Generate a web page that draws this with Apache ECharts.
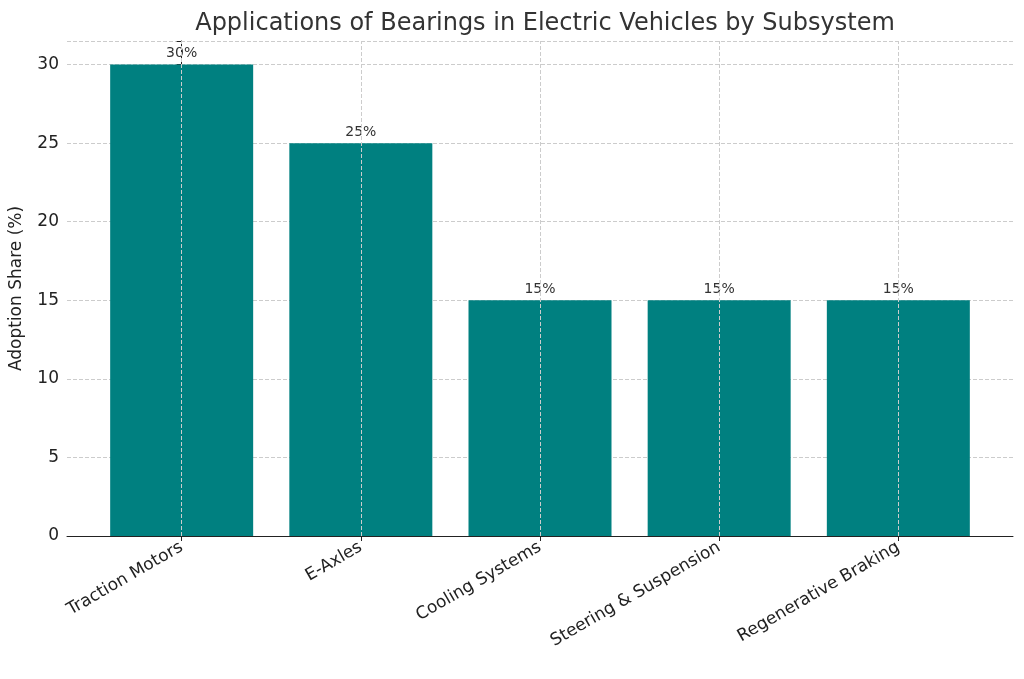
<!DOCTYPE html>
<html><head><meta charset="utf-8">
<script src="https://cdn.jsdelivr.net/npm/echarts@6/dist/echarts.min.js"></script>
<style>html,body{margin:0;padding:0;background:#fff}#main{width:1024px;height:679px}</style>
</head><body><div id="main"></div>
<script>
const categories = ["Traction Motors", "E-Axles", "Cooling Systems", "Steering & Suspension", "Regenerative Braking"];
const shares = [30, 25, 15, 15, 15];
const yTicks = [0, 5, 10, 15, 20, 25, 30];
const positions = categories.map((c, i) => i);

const chart = echarts.init(document.getElementById("main"));
const font = "DejaVu Sans";
chart.setOption({
    animation: false,
    textStyle: { fontFamily: font },
    title: {
        text: "Applications of Bearings in Electric Vehicles by Subsystem",
        left: 540, top: 7, textAlign: "center",
        textStyle: { fontFamily: font, fontSize: 24, fontWeight: "normal", color: "#333" }
    },
    grid: { left: 67, right: 11, top: 41, bottom: 143 },
    xAxis: {
        type: "value", min: -0.64, max: 4.64,
        axisLine: { lineStyle: { color: "#222" } },
        axisTick: { show: true, customValues: positions, lineStyle: { color: "#222" } },
        axisLabel: { rotate: 30, fontSize: 17, color: "#222", margin: 10,
            customValues: positions, formatter: v => categories[Math.round(v)] },
        splitLine: { show: false }
    },
    yAxis: {
        type: "value", min: 0, max: 31.5, interval: 5,
        name: "Adoption Share (%)", nameLocation: "middle", nameGap: 42,
        nameTextStyle: { fontSize: 17, color: "#222" },
        axisLine: { show: true, lineStyle: { color: "#222" } },
        axisTick: { show: true, lineStyle: { color: "#222" } },
        axisLabel: { fontSize: 17, color: "#222",
            formatter: v => yTicks.includes(v) ? String(v) : "" },
        splitLine: { show: true, lineStyle: { type: "dashed", color: "#ccc" } }
    },
    series: [{
        type: "bar", data: shares.map((v, i) => [i, v]), barWidth: 143, z: 1,
        itemStyle: { color: "#008080" },
        label: { show: true, position: "top", formatter: p => p.value[1] + "%", fontSize: 14, color: "#333", distance: 4 },
        markLine: {
            silent: true, symbol: "none", label: { show: false },
            lineStyle: { type: "dashed", color: "#ccc", width: 1 },
            data: positions.map(p => ({ xAxis: p }))
        }
    }]
});
</script></body></html>
